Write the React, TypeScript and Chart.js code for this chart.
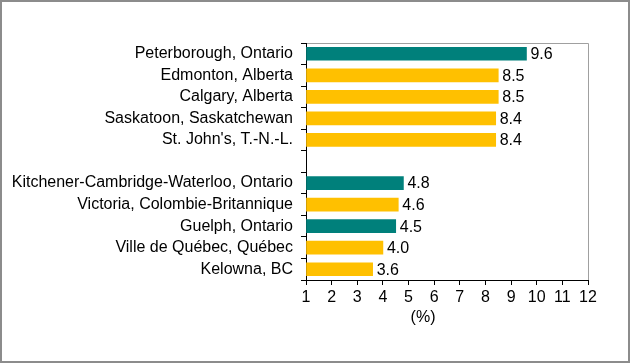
import React, { useEffect, useRef } from "react";
import { Chart, registerables } from "chart.js";

Chart.register(...registerables);

const categories = [
  "Peterborough, Ontario",
  "Edmonton, Alberta",
  "Calgary, Alberta",
  "Saskatoon, Saskatchewan",
  "St. John's, T.-N.-L.",
  "",
  "Kitchener-Cambridge-Waterloo, Ontario",
  "Victoria, Colombie-Britannique",
  "Guelph, Ontario",
  "Ville de Québec, Québec",
  "Kelowna, BC",
];
const values: (number | null)[] = [9.6, 8.5, 8.5, 8.4, 8.4, null, 4.8, 4.6, 4.5, 4.0, 3.6];
const highlight = [true, false, false, false, false, false, true, false, true, false, false];
const xTickMin = 1;
const xTickMax = 12;
const axisTitle = "(%)";

const TEAL = "#00807B";
const GOLD = "#FFC000";
const FONT = "'Liberation Sans', Arial, sans-serif";

export default function App() {
  const ref = useRef<HTMLCanvasElement | null>(null);
  useEffect(() => {
    document.body.style.margin = "0";
    const canvas = ref.current!;
    const framePlugin = {
      id: "frame",
      beforeDraw(chart: any) {
        const { ctx, chartArea: a, width, height } = chart;
        ctx.save();
        ctx.fillStyle = "#fff";
        ctx.fillRect(0, 0, width, height);
        ctx.strokeStyle = "#8c8c8c";
        ctx.lineWidth = 2;
        ctx.strokeRect(1, 1, width - 2, height - 2);
        ctx.strokeStyle = "#a0a0a0";
        ctx.lineWidth = 1;
        ctx.beginPath();
        ctx.moveTo(a.left, a.top + 0.5);
        ctx.lineTo(a.right + 0.5, a.top + 0.5);
        ctx.lineTo(a.right + 0.5, a.bottom);
        ctx.stroke();
        ctx.restore();
      },
    };
    const labelPlugin = {
      id: "vals",
      afterDatasetsDraw(chart: any) {
        const { ctx, chartArea: a } = chart;
        const meta = chart.getDatasetMeta(0);
        ctx.save();
        ctx.fillStyle = "#000";
        ctx.font = `16px ${FONT}`;
        ctx.textBaseline = "middle";
        ctx.textAlign = "left";
        meta.data.forEach((el: any, i: number) => {
          const v = values[i];
          if (v == null) return;
          ctx.fillText(v.toFixed(1), el.x + 4, el.y + 1);
        });
        ctx.textAlign = "center";
        ctx.fillText(axisTitle, a.left + (a.right - a.left) * 0.415, a.bottom + 38);
        ctx.restore();
      },
    };
    const chart = new Chart(canvas, {
      type: "bar",
      data: {
        labels: categories,
        datasets: [
          {
            data: values,
            backgroundColor: highlight.map((h) => (h ? TEAL : GOLD)),
            barThickness: 13,
            base: xTickMin,
          } as any,
        ],
      },
      options: {
        animation: false,
        responsive: false,
        indexAxis: "y",
        layout: { padding: { left: 0, top: 43, right: 42, bottom: 0 } },
        plugins: { legend: { display: false }, tooltip: { enabled: false } },
        scales: {
          x: {
            min: xTickMin,
            max: xTickMax,
            ticks: { stepSize: 1, color: "#000", font: { family: FONT, size: 16 }, padding: 3, maxRotation: 0, autoSkip: false },
            grid: { drawOnChartArea: false, drawTicks: true, tickLength: 5, color: "#000" },
            border: { color: "#000", width: 1 },
            afterFit: (s: any) => {
              s.height = 83;
            },
          },
          y: {
            ticks: { color: "#000", font: { family: FONT, size: 16 }, padding: 8, autoSkip: false },
            grid: { drawOnChartArea: false, offset: true, tickLength: 5, color: "#000" },
            border: { color: "#000", width: 1 },
            afterFit: (s: any) => {
              s.width = 306;
            },
          },
        },
      },
      plugins: [framePlugin, labelPlugin],
    });
    return () => chart.destroy();
  }, []);
  return (
    <div style={{ position: "absolute", left: 0, top: 0, width: 630, height: 363 }}>
      <canvas ref={ref} width={630} height={363} style={{ width: 630, height: 363, display: "block" }} />
    </div>
  );
}
